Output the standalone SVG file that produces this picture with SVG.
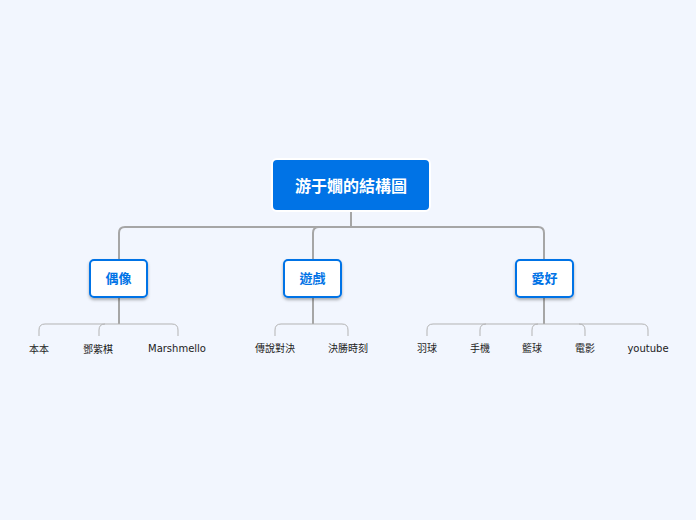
<svg xmlns="http://www.w3.org/2000/svg" width="696" height="520" viewBox="0 0 696 520">
<defs>
<style>
.t{font-family:"DejaVu Sans","Noto Sans CJK TC",sans-serif}
.main{stroke:#a6a6a6;stroke-width:2;fill:none}
.leafc{stroke:#b3b3b3;stroke-width:1;fill:none}
.sub{fill:#fff;stroke:#0073e6;stroke-width:2}
.subt{fill:#0073e6;font-size:13px;font-weight:bold;text-anchor:middle}
.leaf{fill:#222;font-size:10px;text-anchor:middle}
</style>
<filter id="sh" x="-20%" y="-20%" width="140%" height="150%"><feDropShadow dx="0" dy="2" stdDeviation="1.5" flood-color="#000" flood-opacity="0.3"/></filter>
</defs>
<rect width="696" height="520" fill="#f2f6fe"/>
<g id="connectors">
<path class="main" d="M351 210V227M119 260V233Q119 227 125 227H538Q544 227 544 233V260M313 260V233Q313 227 319 227"/>
<path class="main" d="M119 297V324M313 297V324M544 297V324"/>
<path class="leafc" d="M39 336V330Q39 324 45 324H172Q178 324 178 330V336M99 336V330Q99 324 105 324"/>
<path class="leafc" d="M275 336V330Q275 324 281 324H342Q348 324 348 330V336"/>
<path class="leafc" d="M427 336V330Q427 324 433 324H642Q648 324 648 330V336M480 336V330Q480 324 486 324M532 336V330Q532 324 538 324M585 336V330Q585 324 579 324"/>
</g>
<g id="root">
<rect x="272" y="159" width="158" height="52" rx="5" fill="#0073e6" stroke="#fff" stroke-width="2"/>
<text class="t" x="351" y="192" font-size="16" font-weight="bold" fill="#fff" text-anchor="middle">游于嫺的結構圖</text>
</g>
<g id="n1"><rect class="sub" x="90" y="260" width="57" height="37" rx="4" filter="url(#sh)"/><text class="t subt" x="118.5" y="283">偶像</text></g>
<g id="n2"><rect class="sub" x="284" y="260" width="57" height="37" rx="4" filter="url(#sh)"/><text class="t subt" x="312.5" y="283">遊戲</text></g>
<g id="n3"><rect class="sub" x="516" y="260" width="57" height="37" rx="4" filter="url(#sh)"/><text class="t subt" x="544.5" y="283">愛好</text></g>
<g id="leaves">
<text class="t leaf" x="39" y="353">本本</text>
<text class="t leaf" x="98" y="353">鄧紫棋</text>
<text class="t leaf" x="177" y="352">Marshmello</text>
<text class="t leaf" x="275" y="352">傳說對決</text>
<text class="t leaf" x="348" y="352">決勝時刻</text>
<text class="t leaf" x="427" y="352">羽球</text>
<text class="t leaf" x="480" y="352">手機</text>
<text class="t leaf" x="532" y="352">籃球</text>
<text class="t leaf" x="585" y="352">電影</text>
<text class="t leaf" x="648" y="352">youtube</text>
</g>
</svg>
